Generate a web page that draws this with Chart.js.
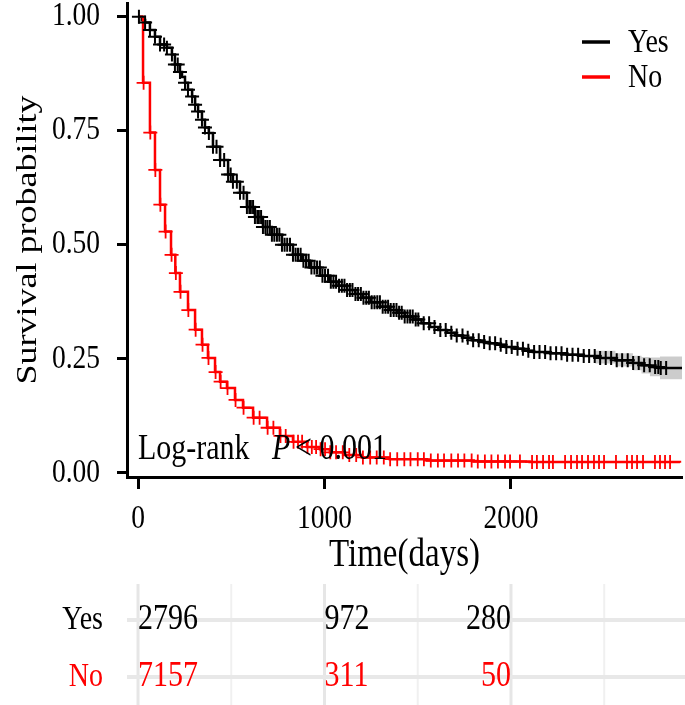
<!DOCTYPE html>
<html><head><meta charset="utf-8">
<script src="https://cdn.jsdelivr.net/npm/chart.js@4.4.0/dist/chart.umd.min.js"></script>
<style>html,body{margin:0;padding:0;background:#fff;} canvas{display:block;}</style>
</head><body>
<canvas id="c" width="685" height="705"></canvas>
<script>
// ---------------- data ----------------
const groups = ['Yes', 'No'];
const groupColors = ['#000000', '#FF0000'];

const xTicks = [0, 1000, 2000];
const yTicks = [0, 0.25, 0.5, 0.75, 1.0];

const yesTimes = [0, 20, 38, 64, 91, 118, 155, 182, 198, 225, 236, 252, 268, 290, 306, 322, 343, 359, 380, 402, 440, 483, 509, 547, 584, 627, 670, 718, 772, 831, 880, 922, 976, 1029, 1075, 1121, 1165, 1206, 1250, 1298, 1345, 1389, 1430, 1475, 1520, 1566, 1610, 1657, 1700, 1743, 1790, 1834, 1880, 1925, 1970, 2020, 2070, 2118, 2210, 2300, 2390, 2477, 2560, 2654, 2700, 2745, 2799, 2917];
const yesSurv = [1.0, 0.993, 0.987, 0.971, 0.956, 0.939, 0.932, 0.917, 0.895, 0.879, 0.868, 0.855, 0.840, 0.825, 0.807, 0.792, 0.774, 0.757, 0.745, 0.715, 0.686, 0.654, 0.638, 0.614, 0.583, 0.561, 0.539, 0.522, 0.500, 0.478, 0.465, 0.450, 0.432, 0.419, 0.410, 0.401, 0.392, 0.384, 0.374, 0.364, 0.357, 0.351, 0.343, 0.336, 0.328, 0.320, 0.313, 0.307, 0.301, 0.296, 0.291, 0.287, 0.284, 0.281, 0.276, 0.272, 0.268, 0.265, 0.262, 0.259, 0.256, 0.252, 0.247, 0.241, 0.236, 0.232, 0.230, 0.230];

const noTimes = [0, 27, 64, 91, 118, 145, 177, 200, 225, 268, 306, 343, 375, 413, 440, 477, 520, 563, 617, 692, 761, 831, 906, 976, 1029, 1100, 1200, 1350, 1550, 1800, 2100, 2906];
const noSurv = [1.0, 0.855, 0.746, 0.664, 0.588, 0.529, 0.478, 0.438, 0.397, 0.357, 0.314, 0.281, 0.252, 0.221, 0.200, 0.186, 0.160, 0.143, 0.121, 0.099, 0.081, 0.068, 0.057, 0.052, 0.045, 0.039, 0.034, 0.030, 0.027, 0.025, 0.024, 0.022];

const yesCensorTimes = [5, 38, 64, 91, 118, 140, 155, 182, 198, 213, 225, 252, 268, 290, 306, 322, 343, 359, 380, 402, 421, 440, 462, 483, 497, 509, 530, 547, 566, 584, 597, 605, 617, 627, 640, 648, 660, 670, 683, 694, 707, 718, 731, 745, 758, 772, 786, 800, 815, 831, 845, 858, 872, 887, 901, 915, 930, 946, 960, 975, 989, 1003, 1019, 1034, 1048, 1062, 1078, 1093, 1107, 1121, 1136, 1150, 1166, 1180, 1195, 1209, 1224, 1238, 1253, 1268, 1283, 1297, 1312, 1327, 1341, 1355, 1371, 1386, 1400, 1414, 1430, 1445, 1459, 1473, 1489, 1503, 1532, 1561, 1590, 1621, 1650, 1680, 1709, 1740, 1768, 1797, 1827, 1856, 1886, 1915, 1945, 1975, 2004, 2035, 2064, 2093, 2124, 2153, 2183, 2212, 2242, 2271, 2301, 2330, 2360, 2390, 2419, 2449, 2478, 2508, 2537, 2567, 2596, 2626, 2655, 2685, 2714, 2744, 2773, 2790, 2803, 2832];
const noCensorTimes = [30, 66, 93, 120, 148, 180, 203, 228, 270, 309, 346, 378, 416, 443, 480, 523, 566, 620, 652, 695, 726, 764, 792, 834, 858, 880, 909, 932, 955, 979, 1003, 1031, 1062, 1098, 1133, 1170, 1206, 1245, 1280, 1318, 1352, 1390, 1428, 1461, 1500, 1533, 1570, 1608, 1641, 1680, 1716, 1750, 1789, 1822, 1860, 1895, 1930, 1968, 1995, 2048, 2113, 2139, 2172, 2204, 2225, 2290, 2322, 2354, 2381, 2413, 2445, 2472, 2499, 2563, 2622, 2649, 2676, 2708, 2772, 2799, 2826, 2853];

const yesBandTimes = [2450, 2560, 2654, 2700, 2745, 2799, 2917];
const yesBandUpper = [0.268, 0.262, 0.257, 0.254, 0.253, 0.255, 0.255];
const yesBandLower = [0.240, 0.233, 0.225, 0.218, 0.212, 0.205, 0.205];

const riskTimes = [0, 1000, 2000];
const riskYes = [2796, 972, 280];
const riskNo = [7157, 311, 50];
const riskGridTimes = [0, 500, 1000, 1500, 2000, 2500];

const xTitle = 'Time(days)';
const yTitle = 'Survival probability';
const testLabel = 'Log-rank';
const testP = 'P';
const testValue = '< 0.001';

// ---------------- helpers ----------------
const FONT = "'Liberation Serif','Times New Roman',serif";
const K = 1.2; // vertical stretch of glyphs, as in the reference picture

const canvas = document.getElementById('c');
const ctx0 = canvas.getContext('2d');
const nativeFill = CanvasRenderingContext2D.prototype.fillText;
ctx0.fillText = function (text, x, y, maxWidth) {
  const m = this.getTransform();
  const p = m.transformPoint(new DOMPoint(x, y));
  this.save();
  this.setTransform(1, 0, 0, 1, 0, 0);
  this.translate(p.x, p.y); this.scale(1, K); this.translate(-p.x, -p.y);
  this.transform(m.a, m.b, m.c, m.d, m.e, m.f);
  if (maxWidth === undefined) nativeFill.call(this, text, x, y);
  else nativeFill.call(this, text, x, y, maxWidth);
  this.restore();
};

function stepValue(times, surv, t) {
  let v = surv[0];
  for (let i = 0; i < times.length; i++) { if (times[i] <= t) v = surv[i]; else break; }
  return v;
}
const toXY = (ts, ss) => ts.map((t, i) => ({x: t, y: ss[i]}));
const censorXY = (cts, ts, ss) => cts.map(t => ({x: t, y: stepValue(ts, ss, t)}));

const overlay = {
  id: 'overlay',
  beforeDraw(chart) {
    const c = chart.ctx; c.save(); c.fillStyle = '#fff'; c.fillRect(0, 0, chart.width, chart.height); c.restore();
    const xs = chart.scales.x;
    c.save();
    riskGridTimes.forEach(t => {
      const px = xs.getPixelForValue(t);
      c.strokeStyle = (t % 1000 === 0) ? '#e6e6e6' : '#f0f0f0';
      c.lineWidth = (t % 1000 === 0) ? 3 : 2;
      c.beginPath(); c.moveTo(px, 584); c.lineTo(px, 705); c.stroke();
    });
    c.strokeStyle = '#e8e8e8'; c.lineWidth = 4;
    [620, 677].forEach(y => { c.beginPath(); c.moveTo(127, y); c.lineTo(685, y); c.stroke(); });
    c.restore();
  },
  afterDraw(chart) {
    const ctx = chart.ctx, xs = chart.scales.x, ys = chart.scales.y;
    ctx.save();
    ctx.fillStyle = '#000'; ctx.textBaseline = 'alphabetic'; ctx.textAlign = 'left';
    const x0 = xs.getPixelForValue(0), yb = ys.getPixelForValue(0.03);
    ctx.font = `30px ${FONT}`; ctx.fillText(testLabel, x0, yb);
    ctx.font = `italic 30px ${FONT}`; ctx.fillText(testP, x0 + 134, yb);
    ctx.font = `30px ${FONT}`; ctx.fillText(testValue, x0 + 157, yb);
    ctx.font = `28px ${FONT}`; ctx.textBaseline = 'middle';
    groups.forEach((g, i) => {
      const y = 42 + i * 35;
      ctx.strokeStyle = groupColors[i]; ctx.lineWidth = 3.5;
      ctx.beginPath(); ctx.moveTo(582, y); ctx.lineTo(610, y); ctx.stroke();
      ctx.fillStyle = '#000'; ctx.textAlign = 'left';
      ctx.fillText(g, 628, y + 1);
    });
    const rows = [riskYes, riskNo];
    const aligns = ['left', 'left', 'right'];
    rows.forEach((vals, r) => {
      const y = r === 0 ? 620 : 677;
      ctx.fillStyle = groupColors[r];
      ctx.font = `28px ${FONT}`;
      ctx.textAlign = 'right'; ctx.fillText(groups[r], 103, y);
      ctx.font = `30px ${FONT}`;
      vals.forEach((v, j) => {
        ctx.textAlign = aligns[j];
        ctx.fillText(String(v), xs.getPixelForValue(riskTimes[j]), y);
      });
    });
    ctx.restore();
  }
};

new Chart(canvas, {
  type: 'line',
  data: {
    datasets: [
      {label: 'Yes censor', data: censorXY(yesCensorTimes, yesTimes, yesSurv), showLine: false,
       pointStyle: 'cross', pointRadius: 7, pointBorderWidth: 2, pointBorderColor: groupColors[0], pointBackgroundColor: groupColors[0], order: 0},
      {label: 'No censor', data: censorXY(noCensorTimes, noTimes, noSurv), showLine: false,
       pointStyle: 'cross', pointRadius: 7, pointBorderWidth: 1.8, pointBorderColor: groupColors[1], pointBackgroundColor: groupColors[1], order: 1},
      {label: groups[0], data: toXY(yesTimes, yesSurv), stepped: true, borderColor: groupColors[0], borderWidth: 2.5, pointRadius: 0, fill: false, order: 3},
      {label: groups[1], data: toXY(noTimes, noSurv), stepped: true, borderColor: groupColors[1], borderWidth: 2.5, pointRadius: 0, fill: false, order: 2},
      {label: 'band upper', data: toXY(yesBandTimes, yesBandUpper), stepped: true, borderWidth: 0, borderColor: 'rgba(0,0,0,0)', pointRadius: 0, fill: '+1', backgroundColor: 'rgba(0,0,0,0.2)', order: 5},
      {label: 'band lower', data: toXY(yesBandTimes, yesBandLower), stepped: true, borderWidth: 0, borderColor: 'rgba(0,0,0,0)', pointRadius: 0, fill: false, order: 6}
    ]
  },
  options: {
    responsive: false, animation: false, devicePixelRatio: 1,
    layout: {autoPadding: false, padding: {top: 3, right: 3, left: 0, bottom: 128}},
    plugins: {legend: {display: false}, tooltip: {enabled: false}},
    scales: {
      x: {
        type: 'linear', min: -59, max: 2917,
        afterBuildTicks: s => { s.ticks = xTicks.map(v => ({value: v})); },
        afterFit: s => { s.height = 100; s.paddingLeft = 0; s.paddingRight = 0; },
        border: {display: true, color: '#000', width: 3},
        grid: {display: true, drawOnChartArea: false, drawTicks: true, tickLength: 12, tickWidth: 3, tickColor: '#000'},
        ticks: {font: {family: FONT, size: 27.5}, color: '#000', padding: 14, maxRotation: 0, callback: v => String(v)},
        title: {display: true, text: xTitle, font: {family: FONT, size: 33}, color: '#000', padding: {top: 0, bottom: 2}}
      },
      y: {
        type: 'linear', min: -0.009, max: 1.03,
        afterBuildTicks: s => { s.ticks = yTicks.map(v => ({value: v})); },
        afterFit: s => { s.width = 127; s.paddingTop = 0; s.paddingBottom = 0; },
        border: {display: true, color: '#000', width: 3},
        grid: {display: true, drawOnChartArea: false, drawTicks: true, tickLength: 10, tickWidth: 3, tickColor: '#000'},
        ticks: {font: {family: FONT, size: 27.5}, color: '#000', padding: 17, callback: v => Number(v).toFixed(2)},
        title: {display: true, text: yTitle, font: {family: FONT, size: 30}, color: '#000', padding: {top: 10, bottom: 4}}
      }
    }
  },
  plugins: [overlay]
});
</script>
</body></html>
